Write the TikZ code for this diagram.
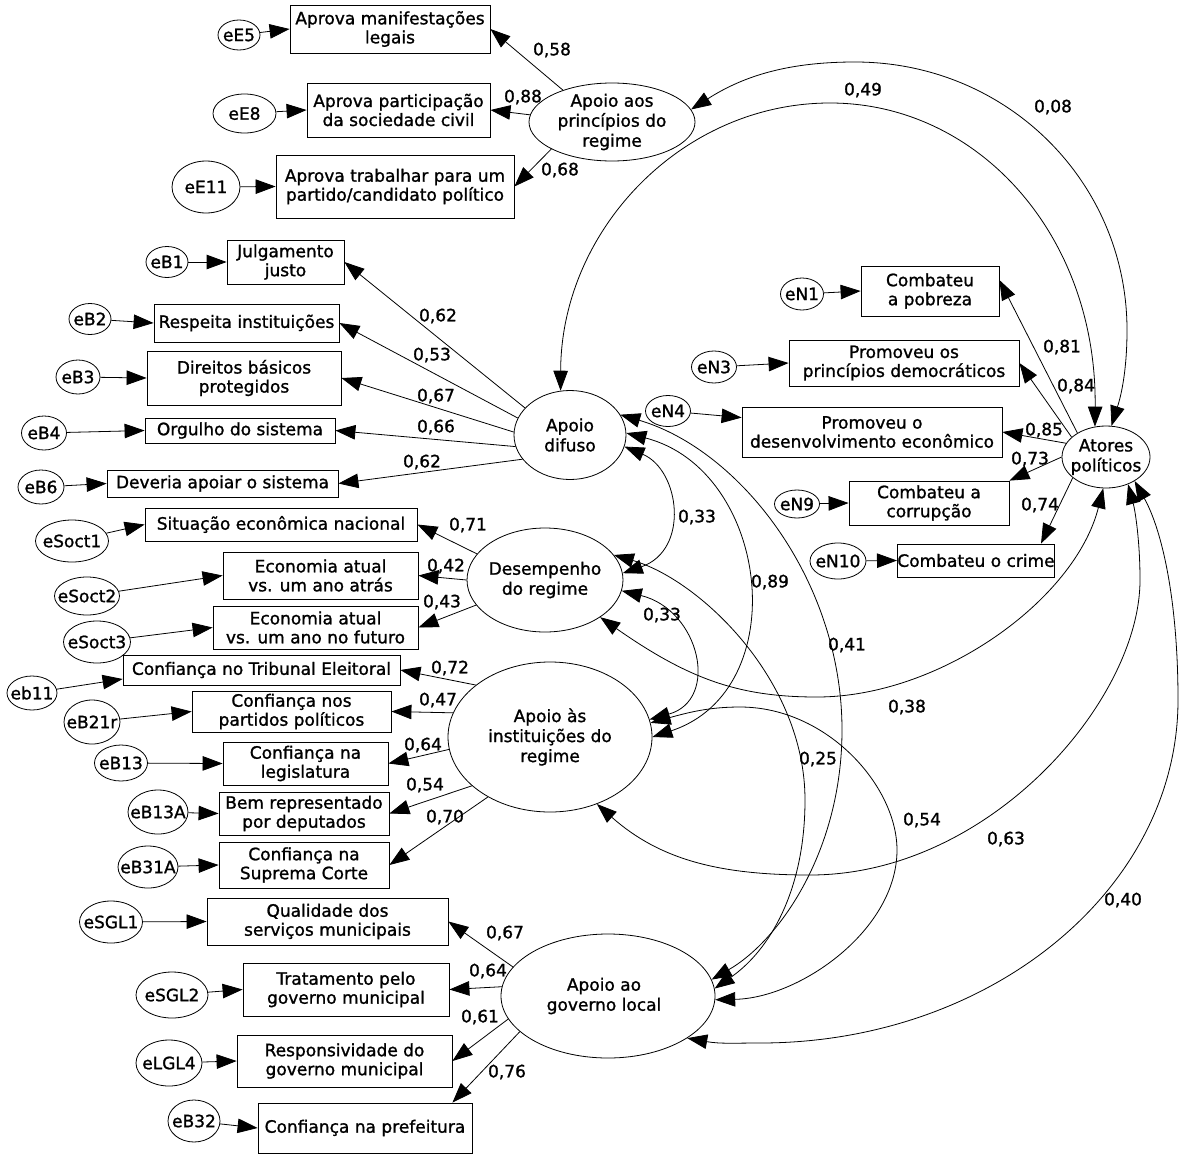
\documentclass[tikz,border=0pt]{standalone}
\usepackage{fontspec}
\setmainfont{DejaVu Sans}[FakeBold=1.2]
\usetikzlibrary{arrows.meta,shapes.geometric,calc}
\newcommand{\ovl}[5]{\node[ovlshape,minimum width=#3,minimum height=#4] (#1) at (#2) {};\node[txt] (#1t) at (#1) {#5};}
\newcommand{\obs}[5]{\node[obsbox,minimum width=#3,minimum height=#4] (#1) at (#2) {#5};}
\begin{document}
\begin{tikzpicture}[x=1pt,y=-1pt,
  every node/.style={font=\fontsize{17}{19}\selectfont},
  >={Triangle[length=20pt,width=14.5pt]},
  obsbox/.style={draw,rectangle,inner sep=0pt,align=center,fill=white,line width=0.8pt},
  ovlshape/.style={draw,ellipse,inner sep=0pt,fill=white,line width=0.8pt},
  txt/.style={inner sep=0pt,align=center,font=\fontsize{17}{20}\selectfont},
  lbl/.style={inner sep=0pt},
  one/.style={->,line width=0.8pt},
  two/.style={<->,line width=0.8pt},
]
\useasboundingbox (0,0) rectangle (1180,1154);

% ---------- latent ellipses ----------
\ovl{P}{612,122}{166pt}{78pt}{Apoio aos\\princípios do\\regime}
\ovl{D}{570,435}{112pt}{89pt}{Apoio\\difuso}
\ovl{R}{545,580}{156pt}{104pt}{Desempenho\\do regime}
\ovl{I}{550,737}{204pt}{150pt}{Apoio às\\instituições do\\regime}
\node[ovlshape,minimum width=214pt,minimum height=124pt] (L) at (608,996) {};
\node[txt] (Lt) at (604,996) {Apoio ao\\governo local};
\ovl{A}{1106,457}{88pt}{62pt}{Atores\\políticos}

% ---------- covariance arcs ----------
\draw[two] (P.9) .. controls (745,75) and (790,62) .. (855,62) .. controls (1007,62) and (1127,182) .. (1127,330) .. controls (1127,380) and (1118,405) .. (A.80);
\draw[two] (D.102) .. controls (561,230) and (682,103) .. (830,103) .. controls (978,103) and (1097,235) .. (A.110);
\draw[two] (D.-12) .. controls (680,470) and (690,550) .. (R.5);
\draw[two] (R.-8) .. controls (700,610) and (720,700) .. (I.10);
\draw[two] (D.2) .. controls (770,470) and (795,690) .. (I.0);
\draw[two] (D.22) .. controls (740,450) and (842,580) .. (842,730) .. controls (842,850) and (780,940) .. (L.9);
\draw[two] (R.20) .. controls (700,580) and (805,680) .. (805,800) .. controls (805,890) and (770,950) .. (L.4);
\draw[two] (I.8) .. controls (690,712) and (710,707) .. (740,707) .. controls (827,707) and (897,786) .. (897,850) .. controls (897,930) and (800,998) .. (L.-2);
\draw[two] (R.-34) .. controls (690,680) and (740,697) .. (817,697) .. controls (940,697) and (1075,600) .. (A.265);
\draw[two] (I.-55) .. controls (660,860) and (720,875) .. (810,875) .. controls (990,875) and (1140,700) .. (1140,580) .. controls (1140,540) and (1135,510) .. (A.309);
\draw[two] (L.-28) .. controls (720,1044) and (735,1043) .. (760,1043) .. controls (991,1043) and (1178,889) .. (1178,700) .. controls (1178,600) and (1162,530) .. (A.320);

% ---------- observed boxes ----------
\obs{am}{390,29}{200pt}{48pt}{Aprova manifestações\\legais}
\obs{ap}{398.5,110}{183pt}{54pt}{Aprova participação\\da sociedade civil}
\obs{at}{395,186.5}{238pt}{63pt}{Aprova trabalhar para um\\partido/candidato político}
\obs{jj}{285.5,262}{117pt}{44pt}{Julgamento\\justo}
\obs{ri}{246.5,323}{185pt}{38pt}{Respeita instituições}
\obs{db}{244,378}{194pt}{54pt}{Direitos básicos\\protegidos}
\obs{og}{240,430.5}{190pt}{25pt}{Orgulho do sistema}
\obs{dv}{222.5,483.5}{231pt}{27pt}{Deveria apoiar o sistema}
\obs{sen}{281,524.5}{272pt}{33pt}{Situação econômica nacional}
\obs{ea}{320.5,575.5}{195pt}{47pt}{Economia atual\\vs. um ano atrás}
\obs{ef}{315.5,627.5}{205pt}{43pt}{Economia atual\\vs. um ano no futuro}
\obs{tr}{261.5,670}{277pt}{30pt}{Confiança no Tribunal Eleitoral}
\obs{pp}{291.5,711.5}{199pt}{41pt}{Confiança nos\\partidos políticos}
\obs{lg}{305.5,763.5}{165pt}{43pt}{Confiança na\\legislatura}
\obs{br}{304,813.5}{170pt}{43pt}{Bem representado\\por deputados}
\obs{sc}{304,865}{170pt}{46pt}{Confiança na\\Suprema Corte}
\obs{qs}{327.5,921.5}{241pt}{47pt}{Qualidade dos\\serviços municipais}
\obs{tp}{346,989.5}{206pt}{53pt}{Tratamento pelo\\governo municipal}
\obs{rg}{344.5,1061}{215pt}{52pt}{Responsividade do\\governo municipal}
\obs{cp}{365,1128}{214pt}{50pt}{Confiança na prefeitura}
\obs{cpz}{930,291}{138pt}{50pt}{Combateu\\a pobreza}
\obs{dp}{904,363}{230pt}{46pt}{Promoveu os\\princípios democráticos}
\obs{de}{872,432}{260pt}{50pt}{Promoveu o\\desenvolvimento econômico}
\obs{cc}{929,503}{160pt}{44pt}{Combateu a\\corrupção}
\obs{cr}{976,560.5}{156pt}{33pt}{Combateu o crime}

% ---------- error terms ----------
\ovl{eE5}{239,35}{42pt}{30pt}{eE5}
\ovl{eE8}{244.5,113.5}{63pt}{39pt}{eE8}
\ovl{eE11}{206,187}{68pt}{52pt}{eE11}
\ovl{eB1}{167,262}{42pt}{31pt}{eB1}
\ovl{eB2}{90,319}{42pt}{31pt}{eB2}
\ovl{eB3}{78,377}{44pt}{34pt}{eB3}
\ovl{eB4}{44,433}{45pt}{34pt}{eB4}
\ovl{eB6}{41,487}{46pt}{34pt}{eB6}
\ovl{eSoct1}{72,541}{73pt}{42pt}{eSoct1}
\ovl{eSoct2}{87,596}{65pt}{38pt}{eSoct2}
\ovl{eSoct3}{97,642}{67pt}{42pt}{eSoct3}
\ovl{eb11}{32,693}{50pt}{34pt}{eb11}
\ovl{eB21r}{92,722}{56pt}{44pt}{eB21r}
\ovl{eB13}{121,763}{53pt}{36pt}{eB13}
\ovl{eB13A}{158,812}{60pt}{44pt}{eB13A}
\ovl{eB31A}{148,867}{60pt}{42pt}{eB31A}
\ovl{eSGL1}{111,922}{63pt}{42pt}{eSGL1}
\ovl{eSGL2}{172,995}{72pt}{46pt}{eSGL2}
\ovl{eLGL4}{169,1063}{66pt}{46pt}{eLGL4}
\ovl{eB32}{194,1121}{52pt}{42pt}{eB32}
\ovl{eN1}{802,294}{43pt}{32pt}{eN1}
\ovl{eN3}{714,367}{45pt}{32pt}{eN3}
\ovl{eN4}{668,411}{45pt}{31pt}{eN4}
\ovl{eN9}{797,504}{45pt}{28pt}{eN9}
\ovl{eN10}{838,561}{56pt}{36pt}{eN10}

% ---------- error arrows ----------
\draw[one] (eE5) -- (am.west);
\draw[one] (eE8) -- (ap.west);
\draw[one] (eE11) -- (at.west);
\draw[one] (eB1) -- (jj.west);
\draw[one] (eB2) -- (ri.west);
\draw[one] (eB3) -- (db.west);
\draw[one] (eB4) -- (og.west);
\draw[one] (eB6) -- (dv.west);
\draw[one] (eSoct1) -- (sen.west);
\draw[one] (eSoct2) -- (ea.west);
\draw[one] (eSoct3) -- (ef.west);
\draw[one] (eb11) -- ($(tr.west)+(0,9)$);
\draw[one] (eB21r) -- (pp.west);
\draw[one] (eB13) -- (lg.west);
\draw[one] (eB13A) -- (br.west);
\draw[one] (eB31A) -- (sc.west);
\draw[one] (eSGL1) -- (qs.west);
\draw[one] (eSGL2) -- (tp.west);
\draw[one] (eLGL4) -- (rg.west);
\draw[one] (eB32) -- (cp.west);
\draw[one] (eN1) -- (cpz.west);
\draw[one] (eN3) -- (dp.west);
\draw[one] (eN4) -- ($(de.north west)+(0,11)$);
\draw[one] (eN9) -- (cc.west);
\draw[one] (eN10) -- (cr.west);

% ---------- loadings ----------
\draw[one] (P.147) -- (am.east);
\draw[one] (P.175) -- (ap.east);
\draw[one] (P.204) -- (at.east);
\draw[one] (D.149) -- (jj.east);
\draw[one] (D.162) -- (ri.east);
\draw[one] (D.177) -- (db.east);
\draw[one] (D.192) -- (og.east);
\draw[one] (D.207) -- (dv.east);
\draw[one] (R.159) -- (sen.east);
\draw[one] (R.180) -- (ea.east);
\draw[one] (R.200) -- (ef.east);
\draw[one] (I.145) -- (tr.east);
\draw[one] (I.166) -- (pp.east);
\draw[one] (I.187) -- (lg.east);
\draw[one] (I.212) -- (br.east);
\draw[one] (I.224) -- (sc.east);
\draw[one] (L.163) -- (qs.east);
\draw[one] (L.175) -- (tp.east);
\draw[one] (L.193) -- (rg.east);
\draw[one] (L.202) -- ($(cp.north east)+(-20,0)$);
\draw[one] (A.140) -- ($(cpz.east)+(0,-11)$);
\draw[one] (A.150) -- (dp.east);
\draw[one] (A.161) -- (de.east);
\draw[one] (A.180) -- (cc.north east);
\draw[one] (A.212) -- ($(cr.north east)+(-14,0)$);

% ---------- coefficient labels ----------
\node[lbl] (l1) at (552,50) {0,58};
\node[lbl] (l2) at (523,97) {0,88};
\node[lbl] (l3) at (560,170) {0,68};
\node[lbl] (l4) at (438,316) {0,62};
\node[lbl] (l5) at (432,355) {0,53};
\node[lbl] (l6) at (436,396) {0,67};
\node[lbl] (l7) at (436,427) {0,66};
\node[lbl] (l8) at (422,462) {0,62};
\node[lbl] (l9) at (468,525) {0,71};
\node[lbl] (l10) at (446,566) {0,42};
\node[lbl] (l11) at (442,602) {0,43};
\node[lbl] (l12) at (450,668) {0,72};
\node[lbl] (l13) at (438,700) {0,47};
\node[lbl] (l14) at (423,745) {0,64};
\node[lbl] (l15) at (425,785) {0,54};
\node[lbl] (l16) at (445,817) {0,70};
\node[lbl] (l17) at (505,933) {0,67};
\node[lbl] (l18) at (488,971) {0,64};
\node[lbl] (l19) at (480,1017) {0,61};
\node[lbl] (l20) at (507,1072) {0,76};
\node[lbl] (l21) at (1062,347) {0,81};
\node[lbl] (l22) at (1076,386) {0,84};
\node[lbl] (l23) at (1044,430) {0,85};
\node[lbl] (l24) at (1030,459) {0,73};
\node[lbl] (l25) at (1040,505) {0,74};
\node[lbl] (c1) at (1053,107) {0,08};
\node[lbl] (c2) at (863,90) {0,49};
\node[lbl] (c3) at (697,517) {0,33};
\node[lbl] (c4) at (662,615) {0,33};
\node[lbl] (c5) at (770,582) {0,89};
\node[lbl] (c6) at (847,645) {0,41};
\node[lbl] (c7) at (818,759) {0,25};
\node[lbl] (c8) at (907,707) {0,38};
\node[lbl] (c9) at (922,820) {0,54};
\node[lbl] (c10) at (1006,839) {0,63};
\node[lbl] (c11) at (1123,900) {0,40};
\end{tikzpicture}
\end{document}
